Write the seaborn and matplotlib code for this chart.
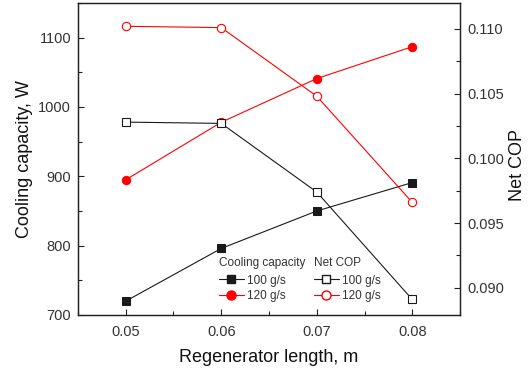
import matplotlib
matplotlib.use("Agg")
import matplotlib.pyplot as plt
from matplotlib.lines import Line2D
from matplotlib.ticker import MultipleLocator, FormatStrFormatter
import seaborn as sns
import pandas as pd

# ---- data ----
lengths = [0.05, 0.06, 0.07, 0.08]
cc_100 = [720, 796, 850, 891]
cc_120 = [895, 978, 1041, 1087]
cop_100 = [0.1028, 0.1027, 0.0974, 0.0891]
cop_120 = [0.1102, 0.1101, 0.1048, 0.0966]
flow_labels = ["100 g/s", "120 g/s"]

sns.set_style("ticks")
plt.rcParams["font.family"] = ["Liberation Sans", "DejaVu Sans"]

fig = plt.figure(figsize=(5.29, 3.72), dpi=100)
ax = fig.add_axes([78/529, 57/372, 382/529, 312/372])
ax2 = ax.twinx()

df_cc100 = pd.DataFrame({"x": lengths, "y": cc_100})
df_cc120 = pd.DataFrame({"x": lengths, "y": cc_120})
df_cop100 = pd.DataFrame({"x": lengths, "y": cop_100})
df_cop120 = pd.DataFrame({"x": lengths, "y": cop_120})

black = "#1a1a1a"
red = "#ff0000"
lw = 0.8

sns.lineplot(data=df_cc120, x="x", y="y", ax=ax, color=red, lw=lw, marker="o",
             markersize=6, markerfacecolor=red, markeredgecolor=red, legend=False)
sns.lineplot(data=df_cc100, x="x", y="y", ax=ax, color=black, lw=lw, marker="s",
             markersize=5.5, markerfacecolor=black, markeredgecolor=black, legend=False)
sns.lineplot(data=df_cop120, x="x", y="y", ax=ax2, color=red, lw=lw, marker="o",
             markersize=6, markerfacecolor="white", markeredgecolor=red,
             markeredgewidth=0.8, legend=False)
sns.lineplot(data=df_cop100, x="x", y="y", ax=ax2, color=black, lw=lw, marker="s",
             markersize=5.5, markerfacecolor="white", markeredgecolor=black,
             markeredgewidth=0.8, legend=False)

ax.set_xlim(0.045, 0.085)
ax.set_ylim(700, 1150)
ax2.set_ylim(0.0879, 0.1120)

ax.xaxis.set_major_locator(MultipleLocator(0.01))
ax.xaxis.set_minor_locator(MultipleLocator(0.005))
ax.xaxis.set_major_formatter(FormatStrFormatter("%.2f"))
ax.yaxis.set_major_locator(MultipleLocator(100))
ax.yaxis.set_minor_locator(MultipleLocator(50))
ax2.yaxis.set_major_locator(MultipleLocator(0.005))
ax2.yaxis.set_minor_locator(MultipleLocator(0.0025))
ax2.yaxis.set_major_formatter(FormatStrFormatter("%.3f"))

tick_color = "#333333"
for a in (ax, ax2):
    a.tick_params(which="major", direction="in", length=4, width=0.8, labelsize=10.5,
                  labelcolor=tick_color, color="#222222")
    a.tick_params(which="minor", direction="in", length=3, width=0.8, color="#222222")
    for s in a.spines.values():
        s.set_visible(True)
        s.set_linewidth(0.9)
        s.set_color("#222222")
ax.tick_params(axis="x", which="major", pad=7)
ax.tick_params(axis="y", which="major", pad=5)
ax2.tick_params(axis="y", which="major", pad=5)

ax.set_xlabel("Regenerator length, m", fontsize=13, color="#111111")
ax.set_ylabel("Cooling capacity, W", fontsize=13, color="#111111")
ax2.set_ylabel("Net COP", fontsize=13, color="#111111")
ax.xaxis.set_label_coords(0.5, -0.108)
ax.yaxis.set_label_coords(-0.118, 0.5)
ax2.yaxis.set_label_coords(1.127, 0.48)

# ---- legends ----
h_cc = [Line2D([], [], color=black, lw=lw, marker="s", ms=6, mfc=black, mec=black),
        Line2D([], [], color=red, lw=lw, marker="o", ms=6.5, mfc=red, mec=red)]
h_cop = [Line2D([], [], color=black, lw=lw, marker="s", ms=6, mfc="white", mec=black),
         Line2D([], [], color=red, lw=lw, marker="o", ms=6.5, mfc="white", mec=red)]
common = dict(loc="upper left", frameon=False, fontsize=8.5, title_fontsize=8.5,
              borderpad=0, borderaxespad=0, handlelength=2.1, handletextpad=0.25,
              labelspacing=0.3, alignment="left", bbox_transform=fig.transFigure)
leg1 = ax2.legend(h_cc, flow_labels, title="Cooling capacity",
                  bbox_to_anchor=(219/529, (372-257)/372), **common)
ax2.add_artist(leg1)
leg2 = ax2.legend(h_cop, flow_labels, title="Net COP",
                  bbox_to_anchor=(314/529, (372-257)/372), **common)
for lg in (leg1, leg2):
    lg.get_title().set_color("#333333")
    lg._legend_box.sep = 4
    for t in lg.get_texts():
        t.set_color("#333333")

fig.savefig("out.png", dpi=100)
